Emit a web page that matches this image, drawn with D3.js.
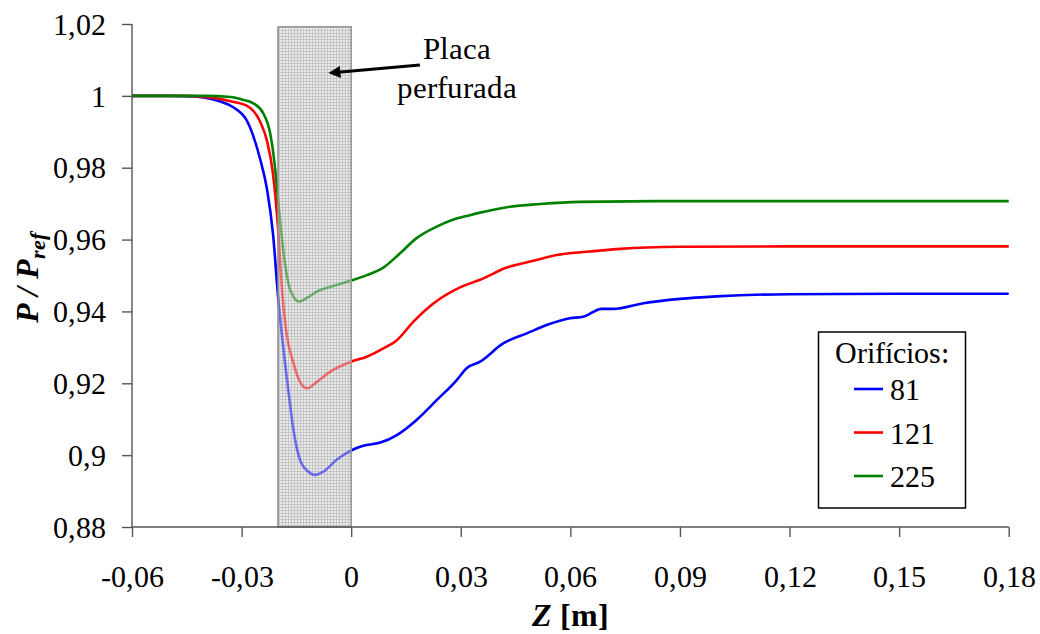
<!DOCTYPE html>
<html>
<head>
<meta charset="utf-8">
<script src="https://cdn.jsdelivr.net/npm/d3@7/dist/d3.min.js"></script>
<style>
  @font-face { font-family: "SerifX"; font-weight: 400; font-style: normal;
    src: local("Liberation Serif"), local("LiberationSerif"), local("LiberationSerif-Regular"), local("Times New Roman"), local("DejaVu Serif"), local("DejaVuSerif"); }
  @font-face { font-family: "SerifX"; font-weight: 700; font-style: normal;
    src: local("Liberation Serif Bold"), local("LiberationSerif-Bold"), local("Times New Roman Bold"), local("DejaVu Serif Bold"), local("DejaVuSerif-Bold"); }
  @font-face { font-family: "SerifX"; font-weight: 700; font-style: italic;
    src: local("Liberation Serif Bold Italic"), local("LiberationSerif-BoldItalic"), local("Times New Roman Bold Italic"), local("DejaVu Serif Bold Italic"), local("DejaVuSerif-BoldItalic"); }
  html, body { margin: 0; padding: 0; background: #fff; }
  svg { display: block; }
  svg text { font-family: "SerifX", "Liberation Serif", "Times New Roman", "DejaVu Serif", serif !important; fill: #000; }
</style>
</head>
<body>
<svg id="chart" width="1040" height="634"></svg>
<script>
// ---------------- data ----------------
const xTicks = [-0.06, -0.03, 0, 0.03, 0.06, 0.09, 0.12, 0.15, 0.18];
const xTickLabels = ["-0,06", "-0,03", "0", "0,03", "0,06", "0,09", "0,12", "0,15", "0,18"];
const yTicks = [0.88, 0.90, 0.92, 0.94, 0.96, 0.98, 1.00, 1.02];
const yTickLabels = ["0,88", "0,9", "0,92", "0,94", "0,96", "0,98", "1", "1,02"];

const seriesNames = ["81", "121", "225"];
const seriesColors = ["#0000ff", "#ff0000", "#008000"];

const s81 = [
  [-0.06, 1.0], [-0.05, 1.0], [-0.045, 0.9999], [-0.04, 0.9995], [-0.036, 0.9985],
  [-0.0324, 0.9969], [-0.0285, 0.993], [-0.025, 0.9827], [-0.023, 0.9738], [-0.0214, 0.9616],
  [-0.02, 0.944], [-0.0187, 0.931], [-0.0172, 0.918], [-0.0158, 0.907], [-0.014, 0.8987],
  [-0.0117, 0.8954], [-0.0099, 0.8945], [-0.0076, 0.8954], [-0.004, 0.8987], [0, 0.9013],
  [0.0033, 0.9026], [0.008, 0.9035], [0.0125, 0.9056], [0.0179, 0.9098], [0.0234, 0.9153],
  [0.0289, 0.9209], [0.0316, 0.9242], [0.0353, 0.926], [0.0416, 0.9311], [0.0481, 0.9339],
  [0.0535, 0.9362], [0.0599, 0.9381], [0.0635, 0.9385], [0.0686, 0.9407], [0.0718, 0.9407],
  [0.08, 0.9423], [0.09, 0.9435], [0.10, 0.9442], [0.12, 0.9448], [0.15, 0.9449], [0.18, 0.9449]
];
const s121 = [
  [-0.06, 1.0], [-0.045, 1.0], [-0.038, 0.9995], [-0.033, 0.9985], [-0.0285, 0.9972],
  [-0.025, 0.993], [-0.023, 0.9873], [-0.0214, 0.9783], [-0.02, 0.963], [-0.019, 0.9469],
  [-0.0177, 0.9339], [-0.0158, 0.9256], [-0.014, 0.9204], [-0.012, 0.9186], [-0.0094, 0.9204],
  [-0.0058, 0.9232], [0, 0.926], [0.0043, 0.9274], [0.0088, 0.9297], [0.0125, 0.932],
  [0.017, 0.9371], [0.0225, 0.9422], [0.0298, 0.9467], [0.0353, 0.9488], [0.0426, 0.9522],
  [0.0499, 0.9541], [0.0563, 0.9557], [0.0645, 0.9566], [0.0736, 0.9574], [0.0809, 0.9578],
  [0.09, 0.958], [0.12, 0.9581], [0.18, 0.9581]
];
const s225 = [
  [-0.06, 1.0], [-0.04, 1.0], [-0.033, 0.9997], [-0.03, 0.999], [-0.0269, 0.998],
  [-0.0241, 0.9952], [-0.0222, 0.9897], [-0.0209, 0.9805], [-0.02, 0.971], [-0.0186, 0.9571],
  [-0.0172, 0.9478], [-0.0158, 0.9441], [-0.0142, 0.9427], [-0.0122, 0.9437], [-0.0094, 0.9455],
  [-0.0049, 0.9471], [0, 0.9486], [0.0043, 0.9501], [0.0088, 0.9522], [0.0134, 0.9562],
  [0.0179, 0.9604], [0.0234, 0.9636], [0.028, 0.9656], [0.0325, 0.9668], [0.0353, 0.9675],
  [0.0426, 0.969], [0.0517, 0.9699], [0.0626, 0.9705], [0.09, 0.9707], [0.18, 0.9707]
];
const seriesData = [s81, s121, s225];

// perforated plate region (z from, z to, p top)
const plateZ = [-0.02, 0];
const plateTop = 1.0192;
// annotation: arrow from text toward plate
const arrowFrom = [0.0188, 1.0086];
const arrowTo = [-0.0058, 1.0064];
const annotLines = ["Placa", "perfurada"];
const annotPos = [0.0290, 1.0102];

// ---------------- layout ----------------
const FONT = '"SerifX", "Liberation Serif", "Times New Roman", "DejaVu Serif", serif';
const svg = d3.select("#chart");
const X0 = 132, X1 = 1008.7, Y0 = 527, Y1 = 24;
const x = d3.scaleLinear().domain([-0.06, 0.18]).range([X0, X1]);
const y = d3.scaleLinear().domain([0.88, 1.02]).range([Y0, Y1]);

// pattern for plate
const defs = svg.append("defs");
const pat = defs.append("pattern").attr("id", "grid").attr("patternUnits", "userSpaceOnUse")
  .attr("width", 3).attr("height", 3);
pat.append("rect").attr("width", 3).attr("height", 3).attr("fill", "#ebebeb");
pat.append("rect").attr("x", 0).attr("y", 0).attr("width", 3).attr("height", 1).attr("fill", "#c4c4c4");
pat.append("rect").attr("x", 0).attr("y", 0).attr("width", 1).attr("height", 3).attr("fill", "#c4c4c4");

const plateRect = (g, op) => g.append("rect")
  .attr("x", x(plateZ[0])).attr("width", x(plateZ[1]) - x(plateZ[0]))
  .attr("y", y(plateTop)).attr("height", y(0.88) - y(plateTop))
  .attr("fill", "url(#grid)").attr("fill-opacity", op)
  .attr("stroke", "#9a9a9a").attr("stroke-width", 1.5);

plateRect(svg, 1);

// lines
const line = d3.line().x(d => x(d[0])).y(d => y(d[1])).curve(d3.curveMonotoneX);
seriesData.forEach((s, i) => {
  svg.append("path").datum(s).attr("d", line)
    .attr("fill", "none").attr("stroke", seriesColors[i]).attr("stroke-width", 2.6)
    .attr("stroke-linejoin", "round");
});

// overlay plate semi-transparent (lines appear faded through it)
plateRect(svg, 0.5).attr("stroke", "none");
svg.append("rect")
  .attr("x", x(plateZ[0])).attr("width", x(plateZ[1]) - x(plateZ[0]))
  .attr("y", y(plateTop)).attr("height", y(0.88) - y(plateTop))
  .attr("fill", "none").attr("stroke", "#9a9a9a").attr("stroke-width", 1.5);

// axes
const axisColor = "#555";
const xAxis = d3.axisBottom(x).tickValues(xTicks).tickSize(10).tickFormat((d, i) => xTickLabels[i]);
const gx = svg.append("g").attr("transform", `translate(0,${Y0})`).call(xAxis)
  .attr("font-family", FONT).attr("font-size", 30);
gx.select(".domain").attr("stroke", axisColor).attr("stroke-width", 1.4).attr("d", `M${X0},0H${X1}`);
gx.selectAll(".tick line").attr("stroke", axisColor).attr("stroke-width", 1.4);
gx.selectAll(".tick text").attr("font-size", 30)
  .attr("y", 0).attr("dy", null).attr("transform", "translate(0,60)");

const yAxis = d3.axisLeft(y).tickValues(yTicks).tickSize(10).tickFormat((d, i) => yTickLabels[i]);
const gy = svg.append("g").attr("transform", `translate(${X0},0)`).call(yAxis)
  .attr("font-family", FONT).attr("font-size", 30);
gy.select(".domain").attr("stroke", axisColor).attr("stroke-width", 1.4).attr("d", `M0,${Y0}V${Y1}`);
gy.selectAll(".tick line").attr("stroke", axisColor).attr("stroke-width", 1.4);
gy.selectAll(".tick text").attr("font-size", 30)
  .attr("x", -26).attr("dy", "0.34em");

// axis titles
svg.append("text").attr("x", (X0 + X1) / 2).attr("y", 626).attr("text-anchor", "middle")
  .attr("font-size", 32).attr("font-weight", "bold")
  .html('<tspan font-style="italic">Z</tspan> [m]');

const yl = svg.append("text").attr("transform", `translate(38,${(Y0 + Y1) / 2 + 2}) rotate(-90)`)
  .attr("text-anchor", "middle").attr("font-size", 32).attr("font-weight", "bold").attr("font-style", "italic");
yl.append("tspan").text("P / P");
yl.append("tspan").attr("font-size", 22).attr("dy", 7).text("ref");

// annotation
svg.append("defs").append("marker").attr("id", "ah").attr("viewBox", "0 0 10 10")
  .attr("refX", 2).attr("refY", 5).attr("markerWidth", 5).attr("markerHeight", 4)
  .attr("orient", "auto").attr("markerUnits", "strokeWidth")
  .append("path").attr("d", "M0,0L10,5L0,10Z").attr("fill", "#000");
svg.append("line")
  .attr("x1", x(arrowFrom[0])).attr("y1", y(arrowFrom[1]))
  .attr("x2", x(arrowTo[0]) + 8).attr("y2", y(arrowTo[1]) - 0.7)
  .attr("stroke", "#000").attr("stroke-width", 3).attr("marker-end", "url(#ah)");
const at = svg.append("text").attr("text-anchor", "middle").attr("font-size", 31);
annotLines.forEach((t, i) => {
  at.append("tspan").attr("x", x(annotPos[0])).attr("y", y(annotPos[1]) + i * 39).text(t);
});

// legend
const lg = svg.append("g");
lg.append("rect").attr("x", 818.5).attr("y", 332).attr("width", 147).attr("height", 176)
  .attr("fill", "#fff").attr("stroke", "#000").attr("stroke-width", 1.5);
lg.append("text").attr("x", 892).attr("y", 363).attr("text-anchor", "middle")
  .attr("font-size", 30).text("Orifícios:");
seriesNames.forEach((n, i) => {
  const ly = 389 + i * 43.5;
  lg.append("line").attr("x1", 854).attr("x2", 883).attr("y1", ly).attr("y2", ly)
    .attr("stroke", seriesColors[i]).attr("stroke-width", 2.6);
  lg.append("text").attr("x", 890).attr("y", ly + 11).attr("font-size", 30).text(n);
});
</script>
</body>
</html>
